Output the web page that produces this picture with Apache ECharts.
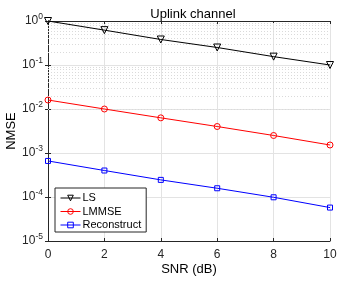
<!DOCTYPE html>
<html><head><meta charset="utf-8">
<script src="https://cdn.jsdelivr.net/npm/echarts@6/dist/echarts.min.js"></script>
<style>html,body{margin:0;padding:0;background:#fff}#c{width:364px;height:282px}</style>
</head><body><div id="c"></div>
<script>
const snr = [0, 2, 4, 6, 8, 10];
const ls = [1.0, 0.62, 0.38, 0.25, 0.155, 0.10];
const lmmse = [0.016, 0.010, 0.0063, 0.0040, 0.0025, 0.00152];
const recon = [0.00066, 0.00040, 0.000245, 0.000158, 0.0000985, 0.0000575];
const seriesNames = ['LS', 'LMMSE', 'Reconstruct'];
const seriesColors = ['#000000', '#ff0000', '#0000ff'];

const minorVals = [];
for (let e = -5; e < 0; e++) for (let m = 2; m <= 9; m++) minorVals.push(m * Math.pow(10, e));

const F = 'Liberation Sans, Arial, Helvetica, sans-serif';
const AX = '#262626';
const pair = a => snr.map((x, i) => [x, a[i]]);

const chart = echarts.init(document.getElementById('c'), null, {renderer: 'canvas'});
chart.setOption({
  animation: false,
  backgroundColor: '#fff',
  textStyle: {fontFamily: F},
  title: {text: 'Uplink channel', left: 188, textAlign: 'center', top: 3,
    textStyle: {fontFamily: F, fontSize: 13, fontWeight: 'normal', color: '#000'}},
  grid: {left: 48, right: 34, top: 21, bottom: 41, containLabel: false, outerBoundsMode: 'none'},
  legend: {
    orient: 'vertical', left: 55, top: 188,
    data: seriesNames.map((n, i) => ({
      name: n,
      itemStyle: {color: 'rgba(0,0,0,0)', borderColor: seriesColors[i], borderWidth: 1},
      lineStyle: {color: seriesColors[i], width: 1}
    })),
    backgroundColor: '#fff', borderColor: AX, borderWidth: 1, padding: [4, 5, 1, 5],
    itemWidth: 20, itemHeight: 7, itemGap: 1.5,
    textStyle: {fontFamily: F, fontSize: 11, lineHeight: 12, color: '#000', padding: [0, 0, 0, -3]}
  },
  xAxis: [{
    type: 'value', min: 0, max: 10, interval: 2,
    name: 'SNR (dB)', nameLocation: 'middle', nameGap: 22, nameMoveOverlap: false,
    nameTextStyle: {fontFamily: F, fontSize: 13, color: '#000'},
    axisLine: {show: true, lineStyle: {color: AX, width: 1}},
    axisTick: {show: true, inside: true, length: 3, lineStyle: {color: AX}},
    axisLabel: {fontFamily: F, fontSize: 12, color: AX, margin: 8},
    splitLine: {show: true, lineStyle: {color: '#e3e3e3', width: 1}}
  }, {
    type: 'value', min: 0, max: 10, interval: 2, position: 'top',
    axisLine: {show: true, lineStyle: {color: AX, width: 1}},
    axisTick: {show: true, inside: true, length: 3, lineStyle: {color: AX}},
    axisLabel: {show: false}, splitLine: {show: false}
  }],
  yAxis: [{
    type: 'log', logBase: 10, min: 1e-5, max: 1,
    name: 'NMSE', nameLocation: 'middle', nameGap: 30, nameMoveOverlap: false,
    nameTextStyle: {fontFamily: F, fontSize: 13, color: '#000'},
    axisLine: {show: true, lineStyle: {color: AX, width: 1}},
    axisTick: {show: true, inside: true, length: 3, lineStyle: {color: AX}},
    axisLabel: {
      fontFamily: F, color: AX, margin: 5,
      formatter: v => '{b|10}{s|' + Math.round(Math.log10(v)) + '}',
      rich: {b: {fontSize: 12, fontFamily: F, color: AX},
             s: {fontSize: 8.5, fontFamily: F, color: AX, padding: [0, 0, 9, 0]}}
    },
    splitLine: {show: true, lineStyle: {color: '#e3e3e3', width: 1}}
  }, {
    type: 'log', logBase: 10, min: 1e-5, max: 1, position: 'right',
    axisLine: {show: true, lineStyle: {color: AX, width: 1}},
    axisTick: {show: true, inside: true, length: 3, lineStyle: {color: AX}},
    axisLabel: {show: false}, splitLine: {show: false}
  }],
  series: [
    {
      name: 'minor', type: 'line', data: [], silent: true, z: 1,
      markLine: {silent: true, symbol: ['none', 'none'], animation: false,
        label: {show: false},
        lineStyle: {color: '#dadada', type: [1, 2], width: 1},
        emphasis: {disabled: true},
        data: minorVals.map(v => ({yAxis: v}))}
    },
    {
      name: 'LS', type: 'line', data: pair(ls), z: 5,
      symbol: 'triangle', symbolRotate: 180, symbolSize: 7,
      lineStyle: {color: seriesColors[0], width: 1},
      itemStyle: {color: 'rgba(0,0,0,0)', borderColor: seriesColors[0], borderWidth: 1}
    },
    {
      name: 'LMMSE', type: 'line', data: pair(lmmse), z: 5,
      symbol: 'circle', symbolSize: 6,
      lineStyle: {color: seriesColors[1], width: 1},
      itemStyle: {color: 'rgba(0,0,0,0)', borderColor: seriesColors[1], borderWidth: 1}
    },
    {
      name: 'Reconstruct', type: 'line', data: pair(recon), z: 5,
      symbol: 'rect', symbolSize: 5,
      lineStyle: {color: seriesColors[2], width: 1},
      itemStyle: {color: 'rgba(0,0,0,0)', borderColor: seriesColors[2], borderWidth: 1}
    }
  ]
});
</script></body></html>
